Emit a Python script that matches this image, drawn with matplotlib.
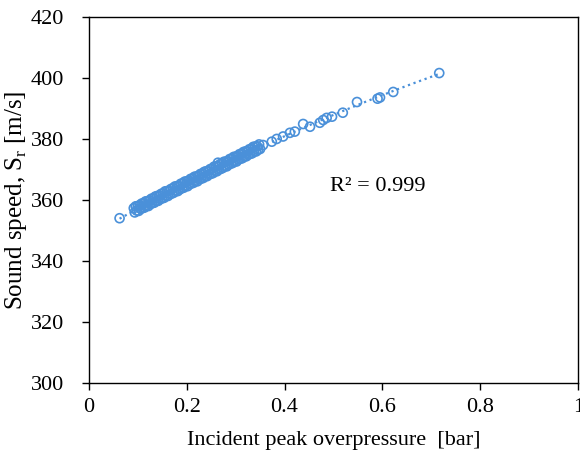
import matplotlib.pyplot as plt
import numpy as np

plt.rcParams['font.family'] = ['Liberation Serif', 'DejaVu Serif']
plt.rcParams['mathtext.fontset'] = 'custom'
plt.rcParams['mathtext.rm'] = 'Liberation Serif'

BLUE = '#4A90D9'

# dense band of measurements, upper edge
band_x_hi = [
    0.092, 0.096, 0.100, 0.104, 0.108, 0.112, 0.116, 0.120, 0.124, 0.128,
    0.132, 0.136, 0.140, 0.144, 0.148, 0.152, 0.156, 0.160, 0.164, 0.168,
    0.172, 0.176, 0.180, 0.184, 0.188, 0.192, 0.196, 0.200, 0.204, 0.208,
    0.212, 0.216, 0.220, 0.224, 0.228, 0.232, 0.236, 0.240, 0.244, 0.248,
    0.252, 0.256, 0.260, 0.264, 0.268, 0.272, 0.276, 0.280, 0.284, 0.288,
    0.292, 0.296, 0.300, 0.304, 0.308, 0.312, 0.316, 0.320, 0.324, 0.328,
    0.332, 0.336, 0.340, 0.344, 0.348,
]
band_y_hi = [
    357.3, 357.9, 358.0, 358.2, 358.8, 358.9, 359.5, 359.6, 359.8, 360.4,
    360.5, 361.1, 361.3, 361.4, 362.0, 362.1, 362.8, 362.9, 363.0, 363.6,
    363.8, 364.4, 364.5, 364.6, 365.3, 365.4, 366.0, 366.1, 366.3, 366.9,
    367.0, 367.6, 367.7, 367.9, 368.5, 368.6, 369.2, 369.4, 369.5, 370.1,
    370.2, 370.9, 371.0, 371.1, 371.7, 371.9, 372.5, 372.6, 372.7, 373.4,
    373.5, 374.1, 374.2, 374.4, 375.0, 375.1, 375.7, 375.9, 376.0, 376.6,
    376.7, 377.4, 377.5, 377.6, 378.2,
]

# dense band of measurements, lower edge
band_x_lo = [
    0.094, 0.098, 0.102, 0.106, 0.110, 0.114, 0.118, 0.122, 0.126, 0.130,
    0.134, 0.138, 0.142, 0.146, 0.150, 0.154, 0.158, 0.162, 0.166, 0.170,
    0.174, 0.178, 0.182, 0.186, 0.190, 0.194, 0.198, 0.202, 0.206, 0.210,
    0.214, 0.218, 0.222, 0.226, 0.230, 0.234, 0.238, 0.242, 0.246, 0.250,
    0.254, 0.258, 0.262, 0.266, 0.270, 0.274, 0.278, 0.282, 0.286, 0.290,
    0.294, 0.298, 0.302, 0.306, 0.310, 0.314, 0.318, 0.322, 0.326, 0.330,
    0.334, 0.338, 0.342, 0.346, 0.350,
]
band_y_lo = [
    355.9, 356.5, 356.4, 357.1, 357.3, 357.5, 358.1, 358.0, 358.7, 358.9,
    359.1, 359.7, 359.7, 360.3, 360.5, 360.7, 361.4, 361.3, 361.9, 362.1,
    362.4, 363.0, 362.9, 363.5, 363.8, 364.0, 364.6, 364.5, 365.2, 365.4,
    365.6, 366.2, 366.1, 366.8, 367.0, 367.2, 367.8, 367.8, 368.4, 368.6,
    368.8, 369.5, 369.4, 370.0, 370.2, 370.5, 371.1, 371.0, 371.6, 371.9,
    372.1, 372.7, 372.6, 373.3, 373.5, 373.7, 374.3, 374.3, 374.9, 375.1,
    375.3, 376.0, 375.9, 376.5, 376.7,
]

# isolated measurements
single_x = [
    0.063, 0.264, 0.356, 0.374, 0.384, 0.397, 0.411, 0.421, 0.438, 0.452,
    0.472, 0.479, 0.486, 0.497, 0.519, 0.548, 0.590, 0.595, 0.622, 0.716,
]
single_y = [
    354.0, 372.2, 378.0, 379.1, 380.0, 380.8, 382.0, 382.4, 384.9, 384.0,
    385.3, 386.2, 386.9, 387.3, 388.6, 392.1, 393.2, 393.6, 395.4, 401.6,
]

x = np.array(band_x_hi + band_x_lo + single_x)
y = np.array(band_y_hi + band_y_lo + single_y)

fig = plt.figure(figsize=(5.8, 4.58), dpi=100)
ax = fig.add_axes([0.153, 0.164, 0.844, 0.799])

ax.scatter(x, y, s=42, facecolors='none', edgecolors=BLUE, linewidths=1.2, zorder=3)

# 2nd order trendline over the data range
coef = np.polyfit(x, y, 2)
xt = np.linspace(x.min(), x.max(), 100)
ax.plot(xt, np.polyval(coef, xt), color=BLUE, linestyle=':', linewidth=1.6, zorder=2)

ax.text(0.493, 364.3, 'R² = 0.999', fontsize=16, va='center', ha='left')

ax.set_xlim(0, 1)
ax.set_ylim(300, 420)
ax.set_xticks([0, 0.2, 0.4, 0.6, 0.8, 1])
ax.set_xticklabels(['0', '0.2', '0.4', '0.6', '0.8', '1'])
ax.set_yticks(np.arange(300, 421, 20))

ax.tick_params(direction='out', length=5, width=1, labelsize=16, colors='black')
ax.tick_params(axis='x', pad=6)
ax.tick_params(axis='y', pad=13)
for s in ax.spines.values():
    s.set_linewidth(1)
    s.set_color('black')

ax.set_xlabel('Incident peak overpressure  [bar]', fontsize=16, labelpad=10)
ax.set_ylabel('Sound speed, S$_\\mathregular{r}$ [m/s]', fontsize=18, labelpad=1)

fig.savefig('out.png', dpi=100)
